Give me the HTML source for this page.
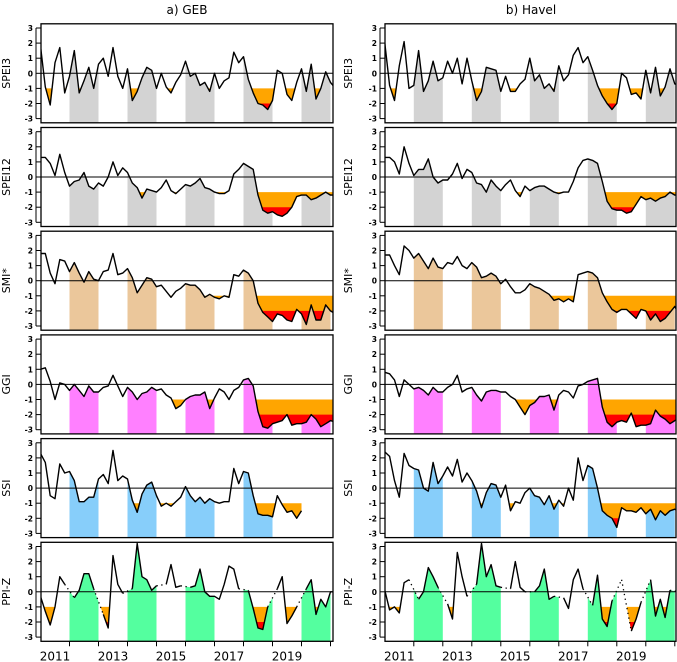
<!DOCTYPE html>
<html><head><meta charset="utf-8"><style>
body{margin:0;background:#fff;}
svg{display:block;font-family:"DejaVu Sans","Liberation Sans",sans-serif;}
</style></head><body>
<svg id="chart" width="677" height="662" viewBox="0 0 677 662">
<text x="187" y="14" text-anchor="middle" font-size="12">a) GEB</text>
<text x="531" y="14" text-anchor="middle" font-size="12">b) Havel</text>
</svg>
<script>
const geb_spei3=[1.8,-0.9,-2.1,0.7,1.7,-1.3,-0.2,1.5,-1.3,-0.5,0.4,-1,0.6,1.0,-0.2,1.7,-0.2,-1.0,0.3,-1.8,-1.2,-0.3,0.4,0.2,-1.0,0,-0.9,-1.3,-0.6,-0.1,0.8,-0.2,0.0,-0.8,-0.6,-1.2,0,-1.0,-0.5,-0.3,1.4,0.7,1.1,-0.4,-1.3,-2.0,-2.1,-2.4,-1.8,0.2,0,-1.4,-1.8,-0.6,0.3,-1.2,0.6,-1.7,-1.0,0.1,-0.6,-1.0];
const geb_spei12=[1.3,1.3,0.9,0.1,1.5,0.3,-0.6,-0.3,-0.2,0.3,-0.6,-0.8,-0.4,-0.6,0.0,1.0,0.1,0.6,0.3,-0.4,-0.7,-1.4,-0.8,-0.9,-1.0,-0.7,-0.2,-0.9,-1.1,-0.8,-0.5,-0.6,-0.4,-0.1,-0.7,-0.8,-1.0,-1.1,-1.1,-0.9,0.2,0.5,0.9,0.7,0.5,-1.2,-2.2,-2.4,-2.3,-2.5,-2.6,-2.4,-2.0,-1.3,-1.2,-1.2,-1.5,-1.4,-1.2,-1.0,-1.2,-1.2];
const geb_smi=[1.8,1.8,0.5,-0.2,1.4,1.3,0.6,1.2,0.5,-0.1,0.6,0.1,0.0,0.6,0.7,1.8,0.4,0.5,0.8,0.2,-0.8,-0.3,0.2,0.1,-0.4,-0.3,-0.7,-1.1,-0.7,-0.5,-0.2,-0.3,-0.3,-0.6,-1.1,-0.9,-1.1,-1.2,-1.0,-1.1,0.4,0.3,0.7,0.5,0.0,-1.5,-2.1,-2.4,-2.7,-2.2,-2.3,-2.6,-2.7,-1.9,-2.2,-2.9,-1.6,-2.6,-2.6,-1.6,-2.0,-2.2];
const geb_ggi=[1.0,1.1,0.2,-1.0,0.1,0.0,-0.4,0.0,-0.4,-0.8,-0.1,-0.5,-0.5,-0.2,-0.1,0.6,-0.1,-0.8,-0.2,-0.5,-1.0,-0.6,-0.5,-0.2,-0.4,-0.3,-0.7,-0.9,-1.6,-1.4,-1.0,-0.8,-0.7,-0.7,-0.5,-1.6,-0.9,-0.3,-0.5,-1.0,-0.4,-0.2,0.3,0.4,-0.1,-1.8,-2.8,-2.9,-2.6,-2.5,-2.4,-2.0,-2.7,-2.6,-2.6,-2.5,-2.0,-2.3,-2.8,-2.6,-2.4,-2.5];
const geb_ssi=[2.3,1.7,-0.5,-0.7,1.6,1.0,1.1,0.5,-0.9,-0.9,-0.6,-0.6,0.6,0.9,0.3,2.5,0.5,0.8,0.6,-0.8,-1.6,-0.4,0.2,0.4,-0.5,-1.2,-1.0,-1.2,-0.9,-0.6,0.1,-0.5,-0.9,-0.6,-1.0,-0.7,-0.9,-1.0,-0.9,-0.9,1.3,0.3,1.1,1.0,-0.5,-1.7,-1.8,-1.8,-1.9,-0.5,-1.1,-1.6,-1.5,-2.0,-1.5,null,null,null,null,null,null,null];
const geb_ppi=[-0.3,-1.3,-2.2,-1.0,1.0,0.5,null,-0.4,0.1,1.2,1.2,0.2,null,-1.5,-2.4,2.4,0.5,-0.1,null,0.2,3.2,1.0,0.8,0.1,0.4,null,0.5,1.8,0.3,0.4,null,0.3,0.4,1.5,0.0,-0.3,-0.3,-0.5,0.5,1.7,1.5,0.2,null,0.1,-1.1,-2.4,-2.5,-1.0,null,0.2,1.0,-2.1,-1.6,-1.0,null,0.2,0.8,-1.5,-0.5,-1.0,0,0];
const hav_spei3=[2.0,-0.8,-1.8,0.5,2.1,-1.0,-0.8,1.5,-1.2,-0.5,0.8,-0.5,-0.3,0.8,0.0,1.0,-0.7,1.0,-0.5,-1.8,-1.2,0.4,0.3,0.2,-1.2,-0.2,-1.2,-1.2,-0.7,-0.4,1.0,-0.5,-0.1,-1.0,-0.7,-1.2,0.5,-0.5,-0.1,1.2,1.7,0.7,1.1,0.2,-0.8,-1.5,-2.0,-2.4,-2.0,0.0,-0.3,-1.4,-1.3,-1.7,0.2,-1.3,0.4,-1.5,-0.9,0.3,-0.7,-0.8];
const hav_spei12=[1.3,1.3,1.0,0.2,2.0,0.9,0.1,0.5,0.5,1.2,0.0,-0.4,-0.2,-0.2,0.2,0.9,-0.1,0.5,0.3,-0.4,-0.5,-1.0,-0.2,-0.6,-0.9,-0.5,-0.2,-0.9,-1.3,-0.6,-0.9,-0.7,-0.6,-0.6,-0.8,-1.0,-1.1,-1.0,-1.0,-0.3,0.6,1.1,1.2,1.1,0.9,-0.3,-1.6,-2.1,-2.2,-2.2,-2.4,-2.3,-1.8,-1.3,-1.5,-1.4,-1.6,-1.4,-1.3,-1.0,-1.2,-1.2];
const hav_smi=[1.7,1.7,1.0,0.4,2.3,2.0,1.5,1.8,1.3,0.8,1.5,0.9,0.8,1.2,1.1,1.6,1.0,0.8,1.2,0.9,0.2,0.3,0.5,0.3,-0.2,0.1,-0.4,-0.8,-0.8,-0.6,-0.2,-0.4,-0.5,-0.7,-0.9,-1.3,-1.2,-1.4,-1.2,-1.4,0.4,0.5,0.6,0.5,0.2,-0.8,-1.4,-1.9,-2.1,-1.9,-1.9,-2.2,-2.5,-1.9,-2.0,-2.6,-2.2,-2.7,-2.5,-2.1,-1.7,-2.3];
const hav_ggi=[0.8,0.7,0.3,-0.8,0.3,0.0,-0.3,-0.2,-0.4,-0.7,-0.2,-0.5,-0.5,-0.2,0.0,0.6,-0.5,-0.3,-0.2,-0.7,-1.1,-0.5,-0.4,-0.4,-0.5,-0.5,-0.8,-1.0,-1.5,-2.0,-1.4,-1.2,-0.8,-0.8,-0.7,-1.7,-0.7,-0.4,-0.5,-0.9,-0.1,0.0,0.2,0.3,0.4,-1.5,-2.5,-2.8,-2.5,-2.4,-2.5,-1.9,-2.8,-2.7,-2.7,-2.6,-1.7,-2.1,-2.3,-2.6,-2.4,-2.3];
const hav_ssi=[2.4,2.1,0.5,-0.6,2.3,1.5,1.3,1.2,0.0,-0.2,1.7,0.3,0.8,1.4,0.8,1.9,0.4,1.0,0.5,-0.2,-1.3,-0.3,0.3,0.2,-0.6,0.2,-1.5,-0.9,-1.0,-0.3,0.0,-0.5,-0.6,-1.1,-0.5,-1.4,-0.8,-1.2,0.0,-0.8,2.0,0.5,1.5,1.3,0.0,-1.5,-1.8,-2.0,-2.6,-1.3,-1.5,-1.5,-1.6,-1.3,-1.7,-1.4,-2.1,-1.5,-1.8,-1.5,-1.4,-1.6];
const hav_ppi=[0.1,-1.2,-1.0,-1.4,0.6,0.8,null,-0.5,0.0,1.6,1.0,0.3,null,-0.8,-1.8,2.6,1.0,-0.3,null,0.5,3.2,1.0,1.8,0.4,0.3,null,0.2,2.0,0.3,0.0,null,0.0,0.4,1.5,-0.5,-0.3,null,-0.4,-1.1,0.8,1.5,0.2,null,-0.9,1.1,-1.8,-2.3,-0.6,null,0.8,null,-2.6,-1.8,-0.7,null,0.8,-1.6,-0.5,-1.7,0.1,null,0];
const yTicks=[-3,-2,-1,0,1,2,3];
const yearLabels=[2011,2013,2015,2017,2019];
const bandStarts=[2011.5,2013.5,2015.5,2017.5,2019.5];
const panelNames=["SPEI3","SPEI12","SMI*","GGI","SSI","PPI-Z"];
const bandColors=["#d3d3d3","#ebc79b","#ff80ff","#87cefa","#54ff9f"];
const panelColorIdx=[0,0,1,2,3,4];
const times=[];for(let i=0;i<62;i++)times.push(2010.5+i/6);

const NS="http://www.w3.org/2000/svg";
const svg=document.getElementById('chart');
function mk(tag,attrs,parent){const e=document.createElementNS(NS,tag);for(const k in attrs)e.setAttribute(k,attrs[k]);(parent||svg).appendChild(e);return e;}
const defs=mk('defs',{});
let cid=0;
function panel(col,row,data){
  const x0=col===0?41:385, x1=col===0?333:676, tx=col===0?55:399.3;
  const zy=73.3+row*103.7, k=15.1, top=zy-49.5, bot=zy+49.5;
  const sx=t=>tx+(t-2011)*29, sy=v=>zy-v*k;
  const g=mk('g',{});
  
  
  // interpolate
  let first=-1,last=-1;data.forEach((v,i)=>{if(v!==null){if(first<0)first=i;last=i;}});
  const fv=data.slice();
  for(let i=first;i<=last;i++){if(fv[i]===null){let a=i-1,b=i+1;while(data[b]===null)b++;fv[i]=data[a]+(data[b]-data[a])*(i-a)/(b-a);}}
  let pts='';for(let i=first;i<=last;i++)pts+=' L'+sx(times[i]).toFixed(1)+','+sy(fv[i]).toFixed(1);
  const pc='pc'+(cid++);
  const cp=mk('clipPath',{id:pc},defs);mk('rect',{x:x0,y:top,width:x1-x0,height:bot-top},cp);
  const inner=mk('g',{'clip-path':'url(#'+pc+')'},g);
  const bc='bc'+(cid++);const bcp=mk('clipPath',{id:bc},defs);
  bandStarts.forEach(b=>mk('rect',{x:sx(b),y:top,width:sx(b+1)-sx(b),height:bot-top},bcp));
  const ba=mk('path',{d:'M'+sx(times[first])+','+bot+pts+' L'+sx(times[last])+','+bot+'Z',fill:bandColors[panelColorIdx[row]],'clip-path':'url(#'+bc+')'},inner);
  
  
  [[-1,'#ffa500','moderate-drought-fill'],[-2,'#ff0000','severe-drought-fill']].forEach(([lv,c,nm])=>{
    const id='lc'+(cid++);const lc=mk('clipPath',{id},defs);mk('rect',{x:x0,y:sy(lv),width:x1-x0,height:bot-sy(lv)},lc);
    const p=mk('path',{d:'M'+sx(times[first])+','+top+pts+' L'+sx(times[last])+','+top+'Z',fill:c,'clip-path':'url(#'+id+')'},inner);
    
    
  });
  const zl=mk('line',{x1:x0,x2:x1,y1:zy,y2:zy,stroke:'#000','stroke-width':1},inner);
  
  
  // solid segments & dotted gaps
  let seg='',dot='',prev=null;
  for(let i=first;i<=last;i++){
    const v=data[i];if(v===null)continue;
    const p=sx(times[i]).toFixed(1)+','+sy(v).toFixed(1);
    if(prev===null||prev===i-1)seg+=(prev===null?'M':' L')+p;
    else{seg+=' M'+p;dot+=' M'+sx(times[prev]).toFixed(1)+','+sy(data[prev]).toFixed(1)+' L'+p;}
    prev=i;
  }
  if(dot){const d=mk('path',{d:dot,fill:'none',stroke:'#000','stroke-width':1.3,'stroke-dasharray':'1.3,3.5'},inner);
    
    }
  const ln=mk('path',{d:seg,fill:'none',stroke:'#000','stroke-width':1.4,'stroke-linejoin':'round'},inner);
  
  
  const fr=mk('rect',{x:x0,y:top,width:x1-x0,height:bot-top,fill:'none',stroke:'#000','stroke-width':1.3},g);
  
  
  yTicks.forEach(v=>{
    mk('line',{x1:x0-5,x2:x0,y1:sy(v),y2:sy(v),stroke:'#000','stroke-width':1},g);
    const t=mk('text',{x:x0-8,y:sy(v)+3,'text-anchor':'end','font-size':7.5,'font-weight':'bold'},g);t.textContent=v;
    
    
  });
  mk('line',{x1:x0-5,x2:x0-5,y1:sy(3),y2:sy(-3),stroke:'#000','stroke-width':1},g);
  const lx=col===0?10:352;
  const yt=mk('text',{x:lx,y:zy,'text-anchor':'middle','font-size':11,transform:'rotate(-90 '+lx+' '+zy+')'},g);
  yt.textContent=panelNames[row];
  
  
  if(row===5){
    bandStarts.forEach(b=>{[b,b+1].forEach(tt=>{if(sx(tt)<x1)mk('line',{x1:sx(tt),x2:sx(tt),y1:bot,y2:bot+5,stroke:'#000','stroke-width':1},g);});});
    yearLabels.forEach(yv=>{const t=mk('text',{x:sx(yv),y:bot+19,'text-anchor':'middle','font-size':12},g);t.textContent=yv;
      
      });
  }
}
const gebSeries=[geb_spei3,geb_spei12,geb_smi,geb_ggi,geb_ssi,geb_ppi];
const havSeries=[hav_spei3,hav_spei12,hav_smi,hav_ggi,hav_ssi,hav_ppi];
gebSeries.forEach((d,r)=>panel(0,r,d));
havSeries.forEach((d,r)=>panel(1,r,d));
</script>
</body></html>
